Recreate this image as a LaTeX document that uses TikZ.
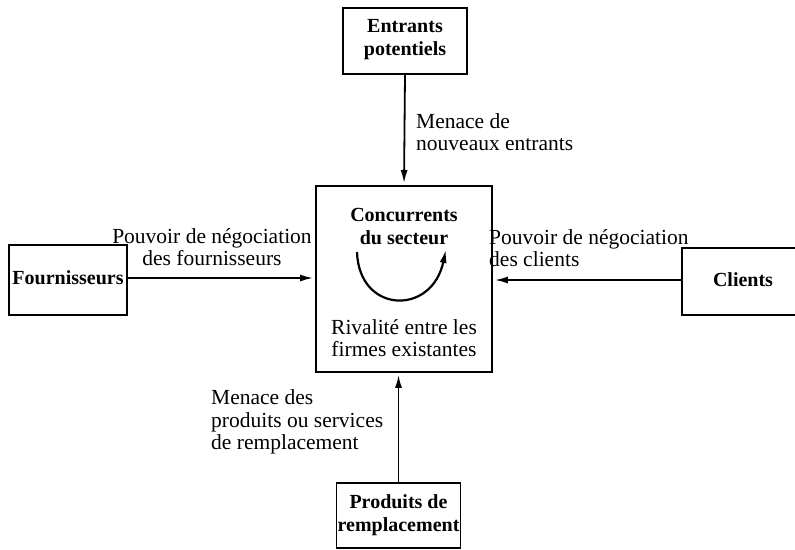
\documentclass[tikz,border=0pt]{standalone}
\usepackage{fontspec}
\setmainfont{Liberation Serif}
\usetikzlibrary{arrows.meta}
\begin{document}
\begin{tikzpicture}[x=1pt,y=-1pt,
  box/.style={draw,line width=1.8pt,inner sep=0pt},
  btxt/.style={font=\fontsize{20}{23}\selectfont\bfseries,align=center,inner sep=0pt},
  lbl/.style={font=\fontsize{21.5}{22.5}\selectfont,inner sep=0pt},
  arr/.style={line width=1.8pt,-{Latex[length=13pt,width=7pt]},shorten >=2pt}]
\useasboundingbox (0,0) rectangle (795,549);
% boxes
\node[box,minimum width=124pt,minimum height=66pt] (E) at (405,41) {};
\node[btxt] (Et) at (405,40) {Entrants\\potentiels};
\node[box,minimum width=176pt,minimum height=186pt] (C) at (404,279) {};
\node[box,minimum width=118pt,minimum height=70pt] (F) at (68,280) {};
\node[btxt] (Ft) at (68,278) {Fournisseurs};
\node[box,minimum width=118pt,minimum height=67pt] (K) at (741,281.5) {};
\node[btxt] (Kt) at (743,280) {Clients};
\node[box,minimum width=124pt,minimum height=65pt] (P) at (398.5,515.5) {};
\node[btxt] (Pt) at (398.5,515) {Produits de\\remplacement};
% center texts
\node[btxt] (Ct) at (404,226) {Concurrents\\du secteur};
\node[lbl,align=center] (Rt) at (404,338) {Rivalité entre les\\firmes existantes};
\coordinate (r1) at (357,252);
\coordinate (r2) at (446,249);
\draw[line width=2.2pt,-{Latex[length=14pt,width=7pt]}] (r1) .. controls (359,314) and (432,316) .. (r2);
% arrows
\draw[arr] (E.south) -- (C.north);
\draw[arr] (F.east |- Ft) -- (C.west |- Ft);
\draw[arr] (K.west |- Kt) -- (C.east |- Kt);
\draw[arr] (P.north) -- (P.north |- C.south);
% labels
\node[lbl,align=left,anchor=west] (L1) at (416,132) {Menace de\\nouveaux entrants};
\node[lbl,align=center] (L2) at (212,247) {Pouvoir de négociation\\des fournisseurs};
\node[lbl,align=left,anchor=west] (L3) at (489,248) {Pouvoir de négociation\\des clients};
\node[lbl,align=left,anchor=west] (L4) at (211,422) {Menace des\\produits ou services\\de remplacement};
\end{tikzpicture}
\end{document}
